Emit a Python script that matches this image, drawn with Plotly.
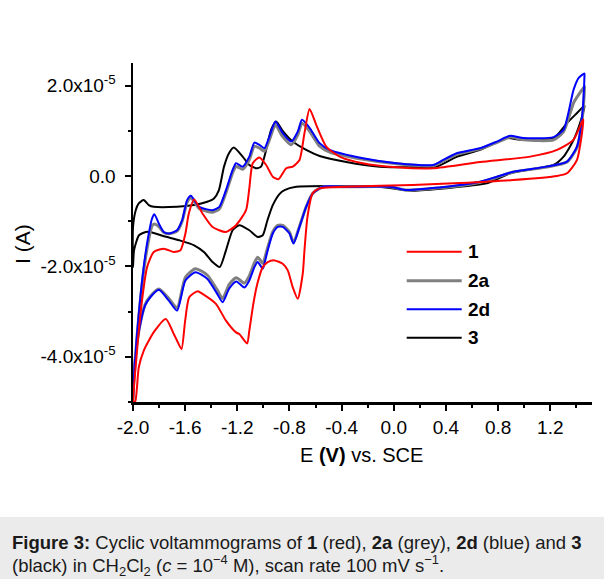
import plotly.graph_objects as go

# ---------------- data (E in V vs SCE, I in units of 1e-5 A) ----------------
names = ["1", "2a", "2d", "3"]
colors = ["#ff0000", "#808080", "#0000ff", "#000000"]

# compound 1 (red): anodic branch (-2.0 -> +1.45) then cathodic branch (+1.45 -> -2.0)
E_1 = [-1.995, -1.969, -1.931, -1.892, -1.841, -1.764, -1.687, -1.636, -1.598, -1.572,
       -1.531, -1.467, -1.39, -1.287, -1.21, -1.133, -1.108, -1.082, -1.031, -0.979,
       -0.928, -0.885, -0.825, -0.775, -0.723, -0.685, -0.646, -0.595, -0.518, -0.415,
       -0.238, 0.021, 0.3, 0.662, 1.046, 1.252, 1.377, 1.444, 1.454,
       1.405, 1.328, 1.252, 0.915, 0.508, 0.146, -0.364, -0.569, -0.623, -0.662,
       -0.685, -0.698, -0.736, -0.775, -0.813, -0.852, -0.915, -0.967, -1.005, -1.046,
       -1.077, -1.108, -1.125, -1.185, -1.21, -1.287, -1.364, -1.467, -1.505, -1.569,
       -1.6, -1.628, -1.662, -1.687, -1.748, -1.838, -1.918, -1.956, -1.982, -1.995]
I_1 = [-5.0, -3.867, -2.756, -2.016, -1.682, -1.607, -1.682, -1.644, -1.273, -0.829,
       -0.518, -0.829, -1.127, -1.238, -1.089, -0.756, -0.273, 0.282, 0.411, 0.244,
       -0.016, -0.073, 0.171, 0.207, 0.356, 0.949, 1.482, 1.133, 0.651, 0.429,
       0.282, 0.193, 0.171, 0.311, 0.429, 0.578, 0.8, 1.207, 1.25,
       0.356, 0.06, 0.0, -0.089, -0.156, -0.2, -0.238, -0.273, -0.384, -0.904,
       -1.644, -2.156, -2.718, -2.46, -2.089, -1.94, -1.867, -1.904, -2.016, -2.378,
       -2.822, -3.422, -3.704, -3.496, -3.46, -3.2, -2.829, -2.607, -2.549, -2.682,
       -3.2, -3.829, -3.644, -3.496, -3.162, -3.444, -3.867, -4.238, -4.978, -5.0]

# compound 2d (blue)
E_2d = [-2.0, -1.969, -1.918, -1.879, -1.854, -1.836, -1.802, -1.764, -1.725, -1.662,
        -1.623, -1.585, -1.556, -1.492, -1.39, -1.338, -1.287, -1.236, -1.21, -1.159,
        -1.108, -1.069, -1.031, -0.992, -0.954, -0.908, -0.852, -0.787, -0.736, -0.704,
        -0.646, -0.569, -0.492, -0.236, 0.021, 0.302, 0.379, 0.482, 0.662, 0.79,
        0.892, 0.995, 1.225, 1.302, 1.379, 1.418, 1.462,
        1.462, 1.444, 1.405, 1.328, 1.175, 0.918, 0.79, 0.662, 0.405, 0.277,
        0.098, -0.031, -0.364, -0.544, -0.621, -0.672, -0.723, -0.769, -0.8, -0.852,
        -0.89, -0.928, -0.967, -0.992, -1.005, -1.044, -1.069, -1.108, -1.146, -1.208,
        -1.262, -1.313, -1.354, -1.431, -1.521, -1.598, -1.662, -1.725, -1.802, -1.867,
        -1.908, -1.954, -1.985, -2.0]
I_2d = [-4.83, -3.496, -2.016, -1.273, -0.94, -0.844, -1.051, -1.238, -1.273, -1.2,
        -0.978, -0.533, -0.438, -0.682, -0.756, -0.682, -0.311, 0.133, 0.282, 0.207,
        0.429, 0.74, 0.689, 0.616, 0.873, 1.207, 0.949, 0.762, 0.984, 1.244,
        1.067, 0.727, 0.578, 0.393, 0.282, 0.244, 0.356, 0.504, 0.616, 0.762,
        0.889, 0.838, 0.86, 1.022, 1.911, 2.171, 2.267,
        2.2, 1.318, 0.651, 0.318, 0.207, 0.096, -0.016, -0.127, -0.238, -0.273,
        -0.311, -0.238, -0.238, -0.238, -0.384, -0.682, -1.127, -1.496, -1.273, -1.127,
        -1.127, -1.273, -1.644, -1.94, -2.051, -1.904, -2.016, -2.311, -2.467, -2.333,
        -2.489, -2.793, -2.607, -2.273, -2.127, -2.311, -2.978, -2.756, -2.518, -2.682,
        -2.867, -3.422, -4.089, -4.95]

# compound 2a (grey)
E_2a = [-2.0, -1.969, -1.918, -1.879, -1.854, -1.836, -1.802, -1.764, -1.725, -1.662,
        -1.623, -1.585, -1.556, -1.492, -1.39, -1.338, -1.287, -1.236, -1.21, -1.159,
        -1.108, -1.069, -1.031, -0.992, -0.954, -0.908, -0.852, -0.787, -0.736, -0.704,
        -0.646, -0.569, -0.492, -0.236, 0.021, 0.302, 0.379, 0.482, 0.662, 0.79,
        0.892, 0.995, 1.225, 1.302, 1.379, 1.418, 1.462,
        1.462, 1.444, 1.405, 1.328, 1.175, 0.918, 0.79, 0.662, 0.405, 0.277,
        0.098, -0.031, -0.364, -0.544, -0.621, -0.672, -0.723, -0.769, -0.8, -0.852,
        -0.89, -0.928, -0.967, -0.992, -1.005, -1.044, -1.069, -1.108, -1.146, -1.208,
        -1.262, -1.313, -1.354, -1.431, -1.521, -1.598, -1.662, -1.725, -1.802, -1.867,
        -1.908, -1.954, -1.985, -2.0]
I_2a = [-4.83, -3.55, -2.1, -1.4, -1.1, -1.06, -1.12, -1.25, -1.28, -1.22,
        -1.0, -0.58, -0.48, -0.72, -0.8, -0.73, -0.37, 0.07, 0.21, 0.15,
        0.36, 0.66, 0.62, 0.55, 0.8, 1.13, 0.87, 0.69, 0.91, 1.17,
        0.99, 0.66, 0.53, 0.37, 0.27, 0.23, 0.33, 0.48, 0.6, 0.74,
        0.86, 0.8, 0.8, 0.98, 1.62, 1.8, 1.98,
        1.95, 1.25, 0.63, 0.31, 0.2, 0.09, -0.03, -0.14, -0.25, -0.28,
        -0.31, -0.24, -0.24, -0.24, -0.38, -0.68, -1.11, -1.47, -1.24, -1.09,
        -1.09, -1.23, -1.58, -1.84, -1.93, -1.8, -1.92, -2.21, -2.37, -2.25,
        -2.4, -2.71, -2.52, -2.19, -2.05, -2.24, -2.92, -2.71, -2.5, -2.66,
        -2.85, -3.41, -4.08, -4.95]

# compound 3 (black)
E_3 = [-2.0, -2.0, -1.979, -1.956, -1.918, -1.879, -1.841, -1.662, -1.533, -1.431, -1.379,
       -1.341, -1.302, -1.264, -1.227, -1.159, -1.108, -1.056, -1.018, -0.979, -0.941,
       -0.902, -0.852, -0.775, -0.672, -0.569, -0.364, -0.108, 0.148, 0.328, 0.482,
       0.662, 0.867, 0.969, 1.225, 1.328, 1.405, 1.462,
       1.462, 1.444, 1.379, 1.302, 1.225, 1.021, 0.892, 0.713, 0.508, 0.405,
       0.148, 0.072, -0.108, -0.492, -0.748, -0.838, -0.877, -0.928, -0.969, -1.005,
       -1.044, -1.108, -1.185, -1.236, -1.287, -1.335, -1.39, -1.454, -1.531, -1.646,
       -1.762, -1.862, -1.902, -1.954, -1.992, -2.0]
I_3 = [-2.016, -1.13, -0.756, -0.607, -0.533, -0.644, -0.682, -0.682, -0.644, -0.571, -0.496,
       -0.311, 0.207, 0.504, 0.629, 0.429, 0.244, 0.171, 0.207, 0.578, 1.022,
       1.207, 1.0, 0.762, 0.578, 0.444, 0.311, 0.207, 0.193, 0.207, 0.422,
       0.578, 0.838, 0.8, 0.838, 1.171, 1.393, 1.556,
       1.54, 1.318, 0.8, 0.429, 0.244, 0.133, 0.06, -0.162, -0.238, -0.273,
       -0.327, -0.311, -0.238, -0.222, -0.238, -0.311, -0.4, -0.644, -0.978, -1.311,
       -1.349, -1.2, -1.089, -1.2, -1.644, -2.016, -1.904, -1.689, -1.533, -1.422,
       -1.333, -1.244, -1.238, -1.311, -1.644, -2.016]

x_ticks = [-2.0, -1.6, -1.2, -0.8, -0.4, 0.0, 0.4, 0.8, 1.2]
x_ticklabels = ["-2.0", "-1.6", "-1.2", "-0.8", "-0.4", "0.0", "0.4", "0.8", "1.2"]
y_ticks = [-4, -2, 0, 2]
y_ticklabels = ["-4.0x10<sup>-5</sup>", "-2.0x10<sup>-5</sup>", "0.0", "2.0x10<sup>-5</sup>"]

# ---------------- figure ----------------
FONT = "Liberation Sans, Arial, Helvetica, sans-serif"
L, R, T, B = 133, 12, 63, 177
W, H = 604, 579
PW, PH = W - L - R, H - T - B


def px(xp):
    return (xp - L) / PW


def py(yp):
    return (H - B - yp) / PH


fig = go.Figure()
# drawing order: black, grey, blue, red
order = [(3, E_3, I_3, 2), (1, E_2a, I_2a, 3), (2, E_2d, I_2d, 2), (0, E_1, I_1, 2)]
for k, E, I, w in order:
    fig.add_trace(go.Scatter(x=E, y=I, mode="lines", name=names[k],
                             line=dict(color=colors[k], width=w, shape="spline", smoothing=0.6),
                             showlegend=False, hoverinfo="skip"))

fig.update_layout(
    width=W, height=H,
    margin=dict(l=L, r=R, t=T, b=B),
    paper_bgcolor="white", plot_bgcolor="white",
    font=dict(family=FONT, color="black", size=19),
    showlegend=False,
)
fig.update_xaxes(range=[-2.0, 1.52], tickmode="array", tickvals=x_ticks, ticktext=x_ticklabels,
                 ticks="outside", ticklen=6, tickwidth=2, tickcolor="black",
                 showline=True, linewidth=2.5, linecolor="black", showgrid=False, zeroline=False,
                 tickfont=dict(size=19), ticklabelstandoff=1,
                 minor=dict(tickmode="linear", tick0=-2.0, dtick=0.2, ticks="outside",
                            ticklen=3, tickwidth=2, tickcolor="black"))
fig.update_yaxes(range=[-5.0, 2.5], tickmode="array", tickvals=y_ticks, ticktext=y_ticklabels,
                 ticks="outside", ticklen=6, tickwidth=2, tickcolor="black",
                 showline=True, linewidth=2.5, linecolor="black", showgrid=False, zeroline=False,
                 tickfont=dict(size=19), ticklabelstandoff=5,
                 minor=dict(tickmode="linear", tick0=0, dtick=1, ticks="outside",
                            ticklen=3, tickwidth=2, tickcolor="black"))

# axis titles
fig.add_annotation(text="E <b>(V)</b> vs. SCE", xref="paper", yref="paper", x=px(361), y=py(455),
                   showarrow=False, font=dict(size=20, family=FONT), xanchor="center", yanchor="middle")
fig.add_annotation(text="I (A)", xref="paper", yref="paper", x=px(22), y=py(244), textangle=-90,
                   showarrow=False, font=dict(size=21, family=FONT), xanchor="center", yanchor="middle")

# legend (manual)
leg_y = [251.7, 280.7, 309.3, 337.7]
for i in range(4):
    fig.add_shape(type="line", xref="paper", yref="paper", x0=px(406.7), x1=px(461.7),
                  y0=py(leg_y[i]), y1=py(leg_y[i]),
                  line=dict(color=colors[i], width=3 if i == 1 else 2))
    fig.add_annotation(text="<b>%s</b>" % names[i], xref="paper", yref="paper", x=px(466), y=py(leg_y[i]),
                       showarrow=False, xanchor="left", yanchor="middle", font=dict(size=19, family=FONT))

# caption box
fig.add_shape(type="rect", xref="paper", yref="paper", x0=px(0), x1=px(W), y0=py(H), y1=py(517),
              fillcolor="#ebebeb", line=dict(width=0), layer="below")
fig.add_annotation(text="<b>Figure 3:</b> Cyclic voltammograms of <b>1</b> (red), <b>2a</b> (grey), "
                        "<b>2d</b> (blue) and <b>3</b>",
                   xref="paper", yref="paper", x=px(10), y=py(542), showarrow=False,
                   xanchor="left", yanchor="middle", font=dict(size=18.5, family=FONT, color="#1a1a1a"))
fig.add_annotation(text="(black) in CH<sub>2</sub>Cl<sub>2</sub> (<i>c</i> = 10<sup>\u22124</sup> M), "
                        "scan rate 100 mV s<sup>\u22121</sup>.",
                   xref="paper", yref="paper", x=px(10), y=py(565), showarrow=False,
                   xanchor="left", yanchor="middle", font=dict(size=18.5, family=FONT, color="#1a1a1a"))

fig.write_html("out.html", config={"displayModeBar": False, "staticPlot": True},
               post_script="document.body.style.margin='0';document.body.style.overflow='hidden';")
